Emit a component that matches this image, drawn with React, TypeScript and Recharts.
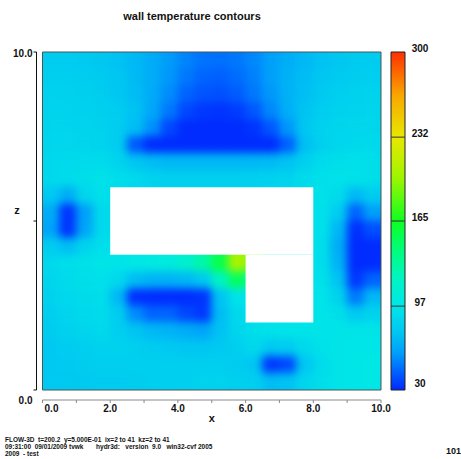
import React from "react"
import { ScatterChart, ComposedChart, Scatter, XAxis, YAxis, ReferenceArea, ReferenceLine } from "recharts"

// cell centres of the 0.5 x 0.5 sampling grid
const xCenters = [0.25, 0.75, 1.25, 1.75, 2.25, 2.75, 3.25, 3.75, 4.25, 4.75, 5.25, 5.75, 6.25, 6.75, 7.25, 7.75, 8.25, 8.75, 9.25, 9.75]
const zCenters = [9.75, 9.25, 8.75, 8.25, 7.75, 7.25, 6.75, 6.25, 5.75, 5.25, 4.75, 4.25, 3.75, 3.25, 2.75, 2.25, 1.75, 1.25, 0.75, 0.25]

// wall temperature, one row per z (top row first)
const temperature = [
  [80, 80, 79, 77, 74, 70, 65, 59, 53, 49, 48, 50, 54, 60, 66, 70, 74, 77, 79, 80],
  [82, 82, 81, 79, 76, 71, 65, 58, 50, 45, 44, 47, 52, 60, 67, 72, 76, 79, 81, 82],
  [84, 84, 83, 81, 77, 72, 64, 55, 45, 41, 40, 43, 50, 58, 67, 73, 78, 82, 84, 85],
  [85, 85, 84, 83, 80, 74, 63, 50, 38, 34, 33, 35, 42, 54, 66, 75, 81, 84, 85, 86],
  [86, 86, 85, 84, 81, 72, 56, 38, 31, 31, 31, 31, 33, 42, 58, 76, 84, 86, 87, 87],
  [87, 87, 86, 85, 81, 42, 31, 31, 31, 31, 31, 31, 31, 31, 44, 73, 83, 87, 88, 89],
  [88, 89, 90, 90, 85, 76, 72, 70, 70, 70, 70, 70, 70, 71, 74, 83, 90, 92, 93, 92],
  [88, 90, 92, 94, 92, 88, 84, 83, 83, 83, 83, 83, 83, 84, 85, 90, 93, 94, 94, 92],
  [78, 65, 86, 93, 88, 86, 86, 86, 86, 86, 86, 86, 86, 86, 88, 90, 94, 90, 70, 80],
  [65, 33, 60, 88, 90, 90, 90, 90, 90, 90, 90, 90, 90, 90, 90, 92, 93, 80, 45, 60],
  [62, 33, 62, 88, 92, 92, 92, 92, 92, 92, 92, 92, 92, 92, 92, 92, 93, 70, 32, 40],
  [80, 72, 85, 92, 96, 99, 101, 104, 110, 125, 150, 200, 200, 120, 96, 94, 92, 65, 31, 31],
  [88, 92, 94, 96, 96, 99, 101, 104, 112, 128, 155, 205, 190, 110, 95, 94, 92, 68, 31, 31],
  [86, 90, 92, 93, 88, 72, 68, 68, 70, 78, 118, 150, 130, 96, 94, 94, 93, 75, 34, 45],
  [84, 88, 90, 92, 70, 32, 31, 31, 31, 33, 75, 95, 95, 95, 95, 95, 95, 85, 50, 70],
  [82, 86, 88, 90, 80, 55, 45, 45, 38, 34, 72, 88, 94, 95, 95, 96, 96, 92, 78, 85],
  [80, 84, 86, 88, 82, 75, 70, 68, 65, 62, 74, 86, 92, 94, 95, 95, 96, 96, 96, 96],
  [78, 80, 82, 84, 84, 82, 80, 78, 76, 76, 78, 82, 88, 78, 80, 88, 94, 96, 97, 97],
  [78, 79, 80, 82, 82, 82, 82, 82, 82, 82, 82, 80, 76, 34, 38, 76, 90, 96, 97, 98],
  [78, 78, 79, 80, 80, 81, 82, 82, 83, 84, 84, 82, 82, 72, 74, 86, 92, 96, 97, 98],
]

// obstacle (L-shaped block) drawn white
const obstacles = [
  { x1: 2, x2: 8, y1: 4, y2: 6 },
  { x1: 6, x2: 8, y1: 2, y2: 4 },
]

const xTicks = [0, 1, 2, 3, 4, 5, 6, 7, 8, 9, 10]
const zTicks = [0, 5, 10]
const colorTicks = [30, 97, 165, 232, 300]
const colorLines = [97, 165, 232]
const colorStops: [number, string][] = [
  [30, "#0028ff"],
  [45, "#0064ff"],
  [60, "#00a0fa"],
  [75, "#00c4f2"],
  [88, "#00d8ec"],
  [97, "#00e6e8"],
  [120, "#00f5c0"],
  [145, "#00ff70"],
  [165, "#10ff20"],
  [200, "#a0f500"],
  [232, "#e8e800"],
  [265, "#f8a800"],
  [300, "#ff3000"],
]

const footerLines = [
  "FLOW-3D  t=200.2  y=5.000E-01  ix=2 to 41  kz=2 to 41",
  "09:31:00  09/01/2009 tvwk       hydr3d:   version  9.0   win32-cvf 2005",
  "2009  - test",
]

const W = 461
const H = 459
const PLOT = { left: 42.5, top: 52, right: 381, bottom: 390 }
const PLOT_W = PLOT.right - PLOT.left
const PLOT_H = PLOT.bottom - PLOT.top
const CELL_W = PLOT_W / xCenters.length
const CELL_H = PLOT_H / zCenters.length
const FONT = "'Liberation Sans', Arial, sans-serif"

const cells = zCenters.flatMap((z, r) => xCenters.map((x, c) => ({ x, z, t: temperature[r][c] })))

function hexToRgb(h: string) {
  return [1, 3, 5].map((i) => parseInt(h.slice(i, i + 2), 16))
}

function colorFor(t: number) {
  if (t <= colorStops[0][0]) return colorStops[0][1]
  for (let i = 1; i < colorStops.length; i++) {
    const [v1, c1] = colorStops[i]
    if (t <= v1) {
      const [v0, c0] = colorStops[i - 1]
      const f = (t - v0) / (v1 - v0)
      const a = hexToRgb(c0)
      const b = hexToRgb(c1)
      const m = a.map((ch, k) => Math.round(ch + (b[k] - ch) * f))
      return `rgb(${m[0]},${m[1]},${m[2]})`
    }
  }
  return colorStops[colorStops.length - 1][1]
}

const HeatCell = (props: any) => {
  const { cx, cy, payload } = props
  return (
    <rect
      x={cx - CELL_W / 2 - 0.3}
      y={cy - CELL_H / 2 - 0.3}
      width={CELL_W + 0.6}
      height={CELL_H + 0.6}
      fill={colorFor(payload.t)}
    />
  )
}

const XTick = (props: any) => {
  const { x, y, payload } = props
  const v = payload.value
  if (v % 2 !== 0) return null
  return (
    <text x={x + (v === 0 ? 9 : 0)} y={y} dy="0.71em" textAnchor="middle" fontFamily={FONT} fontWeight="bold" fontSize={10} fill="#111">
      {v.toFixed(1)}
    </text>
  )
}

const ZTick = (props: any) => {
  const { x, y, payload } = props
  const v = payload.value
  if (v === 5) {
    return (
      <text x={17} y={y - 11} dominantBaseline="central" textAnchor="middle" fontFamily={FONT} fontWeight="bold" fontSize={11} fill="#111">
        z
      </text>
    )
  }
  return (
    <text x={x + 1} y={v === 0 ? y + 10 : y + 1} dominantBaseline="central" textAnchor="end" fontFamily={FONT} fontWeight="bold" fontSize={10} fill="#111">
      {v.toFixed(1)}
    </text>
  )
}

const ColorTick = (props: any) => {
  const { x, y, payload } = props
  const v = payload.value
  return (
    <text x={x + 15} y={y - (v === 30 ? 7 : 4)} dominantBaseline="central" textAnchor="middle" fontFamily={FONT} fontWeight="bold" fontSize={10} fill="#111">
      {v}
    </text>
  )
}

const layer: React.CSSProperties = { position: "absolute", left: 0, top: 0 }

export default function App() {
  return (
    <div style={{ position: "absolute", left: 0, top: 0, width: W, height: H, background: "#fff", overflow: "hidden" }}>
      <style>{`.heat { filter: url(#heatBlur); }`}</style>
      <svg width={0} height={0} style={{ position: "absolute" }}>
        <defs>
          <filter
            id="heatBlur"
            filterUnits="userSpaceOnUse"
            x={PLOT.left}
            y={PLOT.top}
            width={PLOT_W}
            height={PLOT_H}
            colorInterpolationFilters="sRGB"
          >
            <feGaussianBlur stdDeviation="4" edgeMode="duplicate" />
            <feComponentTransfer>
              <feFuncA type="linear" slope="0" intercept="1" />
            </feComponentTransfer>
          </filter>
          <linearGradient id="cbarGrad" x1="0" y1="1" x2="0" y2="0">
            {colorStops.map(([v, c]) => (
              <stop key={v} offset={(v - 30) / 270} stopColor={c} />
            ))}
          </linearGradient>
        </defs>
      </svg>

      <div style={{ ...layer, left: 92, top: 10, width: 200, textAlign: "center", fontFamily: FONT, fontWeight: "bold", fontSize: 11, color: "#111" }}>
        wall temperature contours
      </div>

      {/* heat map */}
      <div style={layer}>
        <ScatterChart width={W} height={H} margin={{ top: PLOT.top, left: PLOT.left, right: W - PLOT.right, bottom: H - PLOT.bottom }}>
          <XAxis type="number" dataKey="x" domain={[0, 10]} hide />
          <YAxis type="number" dataKey="z" domain={[0, 10]} hide />
          <Scatter data={cells} shape={HeatCell} isAnimationActive={false} className="heat" />
          {obstacles.map((o, i) => (
            <ReferenceArea key={i} {...o} fill="#fff" fillOpacity={1} stroke="none" zIndex={2000} ifOverflow="visible" />
          ))}
          <ReferenceArea x1={0} x2={10} y1={0} y2={10} fill="none" stroke="#4a5555" strokeWidth={1} zIndex={2100} ifOverflow="visible" />
        </ScatterChart>
      </div>

      {/* x axis, set below the plot */}
      <div style={layer}>
        <ComposedChart width={W} height={H} data={[{ x: 0, y: 0 }, { x: 10, y: 10 }]} margin={{ top: PLOT.top, left: PLOT.left, right: W - PLOT.right, bottom: 29 }}>
          <XAxis
            type="number"
            dataKey="x"
            domain={[0, 10]}
            ticks={xTicks}
            interval={0}
            height={30}
            tickSize={3}
            stroke="#8a8a8a"
            tick={<XTick />}
            label={{ value: "x", position: "insideBottom", offset: 8, fontFamily: FONT, fontWeight: "bold", fontSize: 11, fill: "#111" }}
          />
          <YAxis type="number" dataKey="y" domain={[0, 10]} hide />
        </ComposedChart>
      </div>

      {/* z axis, set left of the plot */}
      <div style={layer}>
        <ComposedChart width={W} height={H} data={[{ x: 0, y: 0 }, { x: 10, y: 10 }]} margin={{ top: PLOT.top, left: 0, right: W - PLOT.right, bottom: H - PLOT.bottom }}>
          <XAxis type="number" dataKey="x" domain={[0, 10]} hide />
          <YAxis type="number" dataKey="y" domain={[0, 10]} ticks={zTicks} interval={0} width={36.5} tickSize={3} stroke="#111" tick={<ZTick />} />
        </ComposedChart>
      </div>

      {/* colour bar */}
      <div style={layer}>
        <ComposedChart width={W} height={H} data={[{ x: 0, y: 30 }, { x: 1, y: 300 }]} margin={{ top: PLOT.top, left: 391, right: 16, bottom: H - PLOT.bottom }}>
          <XAxis type="number" dataKey="x" domain={[0, 1]} hide />
          <YAxis
            type="number"
            dataKey="y"
            orientation="right"
            domain={[30, 300]}
            ticks={colorTicks}
            interval={0}
            width={40}
            tickSize={0}
            tickMargin={0}
            axisLine={false}
            tickLine={false}
            tick={<ColorTick />}
          />
          <ReferenceArea x1={0} x2={1} y1={30} y2={300} fill="url(#cbarGrad)" fillOpacity={1} stroke="#222" strokeWidth={1} ifOverflow="visible" />
          {colorLines.map((v) => (
            <ReferenceLine key={v} y={v} stroke="#333" strokeWidth={1} ifOverflow="visible" />
          ))}
        </ComposedChart>
      </div>

      <div style={{ ...layer, left: 5, top: 436, fontFamily: FONT, fontWeight: "bold", fontSize: 6.5, lineHeight: "7px", color: "#111", whiteSpace: "pre" }}>
        {footerLines.map((l) => (
          <div key={l}>{l}</div>
        ))}
      </div>
      <div style={{ ...layer, left: 446, top: 446, fontFamily: FONT, fontWeight: "bold", fontSize: 9, color: "#111" }}>101</div>
    </div>
  )
}
